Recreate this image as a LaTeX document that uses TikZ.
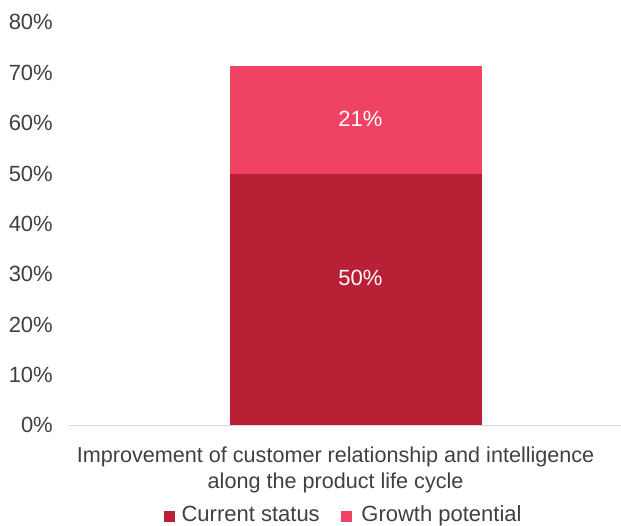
\documentclass[tikz,border=0pt]{standalone}
\usepackage{fontspec}
\setmainfont{Liberation Sans}
\usetikzlibrary{positioning}
\definecolor{current}{HTML}{B92035}
\definecolor{growth}{HTML}{F04262}
\definecolor{gridgray}{HTML}{D9D9D9}
\definecolor{textgray}{HTML}{404040}

\begin{document}
\begin{tikzpicture}[x=1pt,y=1pt,
    ticklabel/.style ={anchor=base east, inner sep=0pt, text=textgray,
                       font=\fontsize{22}{26}\selectfont},
    stackbar/.style  ={anchor=south, inner sep=0pt, minimum width=251.7},
    barlabel/.style  ={anchor=base, inner sep=0pt, text=white,
                       font=\fontsize{22}{26}\selectfont},
    catlabel/.style  ={anchor=base, inner sep=0pt, text=textgray,
                       font=\fontsize{21.6}{26}\selectfont},
    legendbox/.style ={inner sep=0pt, minimum size=10.5},
    legendtext/.style={anchor=base west, inner sep=0pt, text=textgray,
                       font=\fontsize{22}{26}\selectfont}]
   \useasboundingbox (0,0) rectangle (621,526);

   % value axis
   \foreach \v in {0,10,...,80}
     \node[ticklabel] (t\v) at (53,93+5.0375*\v) {\v\%};
   \coordinate (axisL) at (69,100.5);
   \coordinate (axisR) at (621,100.5);

   % stacked bar
   \node[stackbar, fill=current, minimum height=251.5] (cur) at (355.85,100.5) {};
   \node[stackbar, fill=growth, minimum height=108.3] (gro) at ([yshift=-1]cur.north) {};
   \draw[gridgray, line width=1.5pt] (axisL) -- (axisR);
   \node[barlabel] (curval) at (360.5,240) {50\%};
   \node[barlabel] (groval) at (360.5,399.3) {21\%};

   % category
   \node[catlabel] (cat1) at (335.6,63.3) {Improvement of customer relationship and intelligence};
   \node[catlabel] (cat2) at (335.6,37.7) {along the product life cycle};

   % legend
   \node[legendbox, fill=current] (curbox) at (169.4,9.7) {};
   \node[legendtext] (curtext) at (181.4,4.6) {Current status};
   \node[legendbox, fill=growth] (grobox) at (346.4,9.7) {};
   \node[legendtext] (grotext) at (361.2,4.6) {Growth potential};
 \end{tikzpicture}
\end{document}
